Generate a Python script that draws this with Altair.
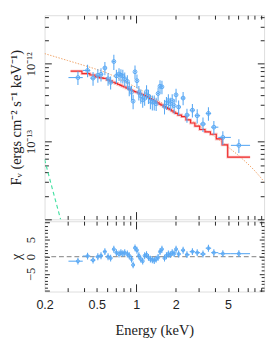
import altair as alt
import pandas as pd
import numpy as np

# ---------------- data (flux in units of 1e-13 erg cm^-2 s^-1 keV^-1) ----------------
energy = [0.359, 0.425, 0.468, 0.509, 0.538, 0.576, 0.609, 0.637, 0.674, 0.705,
          0.738, 0.763, 0.789, 0.816, 0.854, 0.883, 0.919, 0.945, 0.977, 1.011,
          1.045, 1.081, 1.118, 1.157, 1.196, 1.237, 1.280, 1.324, 1.369, 1.416,
          1.465, 1.515, 1.567, 1.639, 1.696, 1.754, 1.814, 1.876, 1.941, 2.007,
          2.100, 2.272, 2.430, 2.674, 2.909, 3.219, 3.542, 3.896, 4.561, 6.04]
flux = [6.64, 8.20, 6.53, 7.11, 7.32, 8.82, 6.40, 5.76, 10.68, 6.97,
        7.38, 7.11, 6.97, 6.40, 5.93, 4.82, 4.30, 3.30, 7.88, 6.05,
        4.26, 3.87, 3.42, 3.59, 4.38, 3.84, 3.30, 3.21, 3.21, 3.06,
        4.14, 5.14, 5.05, 2.83, 3.14, 3.36, 3.06, 3.36, 2.90, 3.98,
        2.78, 3.62, 2.19, 2.53, 2.15, 1.68, 2.30, 1.53, 1.13, 0.893]
flux_err = [1.3, 1.5, 1.3, 1.4, 1.4, 1.7, 1.2, 1.1, 2.4, 1.4,
            1.4, 1.4, 1.4, 1.3, 1.2, 1.0, 0.9, 0.7, 1.6, 1.2,
            0.9, 0.8, 0.7, 0.7, 0.9, 0.8, 0.7, 0.7, 0.7, 0.6,
            0.8, 1.0, 1.0, 0.6, 0.6, 0.7, 0.6, 0.7, 0.6, 0.8,
            0.6, 0.7, 0.45, 0.5, 0.45, 0.35, 0.45, 0.3, 0.23, 0.18]
chi = [-1.3, 0.2, -1.0, 0.0, 0.3, 1.5, 0.0, -0.4, 2.2, 1.2,
       0.8, 1.2, 0.9, 1.2, 0.8, 0.3, -0.7, -2.4, 2.6, 1.9,
       0.3, -0.7, -1.3, 0.3, 0.6, -0.2, -0.7, -0.9, -1.1, -0.7,
       -0.2, 1.5, 2.2, -0.4, 0.3, 0.8, 0.6, 1.2, 0.9, 2.2,
       0.8, 1.9, 0.6, 1.5, 1.2, 0.8, 2.5, 1.2, 0.9, 0.9]
first_edge = 0.304
last_edge = 7.35

model_energy = [0.3155, 0.3532, 0.4202, 0.4666, 0.5050, 0.5402,
                0.576, 0.609, 0.637, 0.674, 0.705, 0.738, 0.763, 0.789, 0.816, 0.854,
                0.883, 0.919, 0.945, 0.977, 1.011, 1.045, 1.081, 1.118, 1.157, 1.196,
                1.237, 1.280, 1.324, 1.369, 1.416, 1.465, 1.515, 1.567, 1.639, 1.696,
                1.754, 1.814, 1.876, 1.941, 2.007,
                2.137, 2.289, 2.491, 2.688, 2.900, 3.182, 3.491, 3.856, 4.288, 4.729,
                5.214, 7.357]
model_flux = [8.03, 8.03, 7.48, 7.17, 6.77, 6.59,
              6.49, 6.20, 6.01, 5.78, 5.58, 5.41, 5.28, 5.14, 5.03, 4.87,
              4.72, 4.58, 4.47, 4.38, 4.30, 4.21, 4.11, 4.02, 3.93, 3.80,
              3.69, 3.56, 3.45, 3.34, 3.24, 3.14, 3.03, 2.94, 2.81, 2.73,
              2.65, 2.58, 2.48, 2.39, 2.30,
              2.19, 2.09, 1.90, 1.73, 1.58, 1.43, 1.33, 1.24, 1.08, 0.908,
              0.631, 0.631]

dotted_energy = [0.2, 0.3, 0.4, 0.5, 0.6, 0.8, 1.0, 1.5, 2.0, 3.0, 4.0, 5.0, 6.5, 8.0, 9.4]
dotted_flux = [13.5, 11.0, 9.5, 8.45, 7.59, 5.96, 4.96, 3.28, 2.40, 1.61, 1.14, 0.851, 0.588, 0.419, 0.305]

bb_energy = [0.2, 0.23, 0.26, 0.28]
bb_flux = [0.59, 0.241, 0.112, 0.0708]

x_labels = [0.2, 0.5, 1, 2, 5]
x_major = [1]
x_minor = [0.3, 0.4, 0.5, 0.6, 0.7, 0.8, 0.9, 2, 3, 4, 5, 6, 7, 8, 9]
y_labels = [1e-13, 1e-12]
y_major = [1e-14, 1e-13, 1e-12]
y_minor = [2e-14, 3e-14, 4e-14, 5e-14, 6e-14, 7e-14, 8e-14, 9e-14,
           2e-13, 3e-13, 4e-13, 5e-13, 6e-13, 7e-13, 8e-13, 9e-13,
           2e-12, 3e-12, 4e-12]
r_labels = [-5, 0, 5]
r_major = [-10, -5, 0, 5, 10]
r_minor = [-9, -8, -7, -6, -4, -3, -2, -1, 1, 2, 3, 4, 6, 7, 8, 9]

# ---------------- tables ----------------
E = np.array(energy)
mids = np.sqrt(E[:-1] * E[1:])
F = np.array(flux) * 1e-13
S = np.array(flux_err) * 1e-13
C = np.array(chi)
df = pd.DataFrame({
    "E": E,
    "elo": np.concatenate([[first_edge], mids]),
    "ehi": np.concatenate([mids, [last_edge]]),
    "F": F, "Flo": F - S, "Fhi": F + S,
    "chi": C, "clo": C - 1, "chi_hi": C + 1,
})
model_df = pd.DataFrame({"E": model_energy, "F": np.array(model_flux) * 1e-13})
dotted_df = pd.DataFrame({"E": dotted_energy, "F": np.array(dotted_flux) * 1e-13})
bb_df = pd.DataFrame({"E": bb_energy, "F": np.array(bb_flux) * 1e-13})
zero_df = pd.DataFrame({"z": [0]})

BLUE = "#58a8f4"
RED = "#f02a2a"
ORANGE = "#efa266"
GREEN = "#45e0a2"
SERIF = "Liberation Serif"
SANS = "Liberation Sans"
TXT = "#222222"

xs = alt.Scale(type="log", domain=[0.2, 9.4], nice=False)
ys = alt.Scale(type="log", domain=[1e-14, 4.2e-12], nice=False)
rs = alt.Scale(domain=[-10.2, 10.4], nice=False, zero=False)


def tick_axis(orient, values, size):
    return alt.Axis(orient=orient, values=values, tickSize=size, offset=-size,
                    ticks=True, labels=False, domain=False, grid=False, title=None,
                    tickColor="#222222", tickWidth=1)


top_label_axis = alt.Axis(
    orient="left", values=y_labels, ticks=False, tickSize=0, domain=False, grid=False,
    labelExpr="datum.value < 5e-13 ? '10\u207b\u00b9\u00b3' : '10\u207b\u00b9\u00b2'",
    labelAngle=-90, labelAlign="center", labelBaseline="bottom", labelPadding=7,
    labelFont=SERIF, labelFontSize=13, labelColor=TXT,
    title="F\u1d65 (ergs cm\u207b\u00b2 s\u207b\u00b9 keV\u207b\u00b9)",
    titleFont=SERIF, titleFontSize=15, titleFontWeight=400, titleColor=TXT,
    titlePadding=2)

dotted = alt.Chart(dotted_df).mark_line(
    color=ORANGE, strokeDash=[1.5, 1.5], strokeWidth=1, clip=True, interpolate="monotone"
).encode(
    x=alt.X("E:Q", scale=xs, axis=tick_axis("bottom", x_major, 8)),
    y=alt.Y("F:Q", scale=ys, axis=top_label_axis),
)
bb = alt.Chart(bb_df).mark_line(
    color=GREEN, strokeDash=[4, 3], strokeWidth=1.2, clip=True
).encode(
    x=alt.X("E:Q", scale=xs, axis=tick_axis("bottom", x_minor, 4)),
    y=alt.Y("F:Q", scale=ys, axis=tick_axis("left", y_major, 7)),
)
halo = alt.Chart(model_df).mark_line(
    color="#f7a8a8", strokeWidth=3, opacity=0.6, interpolate="step", clip=True
).encode(
    x=alt.X("E:Q", scale=xs, axis=tick_axis("top", x_major, 8)),
    y=alt.Y("F:Q", scale=ys, axis=tick_axis("left", y_minor, 4)),
)
model = alt.Chart(model_df).mark_line(
    color=RED, strokeWidth=1.2, interpolate="step", clip=True
).encode(
    x=alt.X("E:Q", scale=xs, axis=tick_axis("top", x_minor, 4)),
    y=alt.Y("F:Q", scale=ys, axis=tick_axis("right", y_major, 7)),
)
errv = alt.Chart(df).mark_rule(color=BLUE, strokeWidth=1.1).encode(
    x=alt.X("E:Q", scale=xs, axis=None),
    y=alt.Y("Flo:Q", scale=ys, axis=tick_axis("right", y_minor, 4)),
    y2="Fhi:Q",
)
errh = alt.Chart(df).mark_rule(color=BLUE, strokeWidth=1.1).encode(
    x=alt.X("elo:Q", scale=xs, axis=None),
    x2="ehi:Q",
    y=alt.Y("F:Q", scale=ys, axis=None),
)
pts = alt.Chart(df).mark_point(
    shape="circle", filled=False, size=16, strokeWidth=1, color=BLUE, opacity=1
).encode(
    x=alt.X("E:Q", scale=xs, axis=None),
    y=alt.Y("F:Q", scale=ys, axis=None),
)

top = alt.layer(dotted, bb, halo, model, errv, errh, pts).resolve_axis(
    x="independent", y="independent"
).properties(width=228, height=212)

# ---------------- residual panel ----------------
bottom_x_axis = alt.Axis(
    orient="bottom", values=x_labels, ticks=False, tickSize=0, domain=False, grid=False,
    labelExpr="'' + datum.value", labelFlush=False, labelPadding=8,
    labelFont=SANS, labelFontSize=13, labelColor=TXT,
    title="Energy (keV)", titleFont=SERIF, titleFontSize=15, titleFontWeight=400,
    titleColor=TXT, titlePadding=12)
bottom_y_axis = alt.Axis(
    orient="left", values=r_labels, ticks=False, tickSize=0, domain=False, grid=False,
    labelAngle=-90, labelAlign="center", labelBaseline="bottom", labelPadding=7,
    labelFont=SERIF, labelFontSize=13, labelColor=TXT,
    title="\u03c7", titleFont=SERIF, titleFontSize=15, titleFontWeight=400,
    titleColor=TXT, titlePadding=2)

zero = alt.Chart(zero_df).mark_rule(color="#9a9a9a", strokeDash=[5, 3], strokeWidth=1.3).encode(
    y=alt.Y("z:Q", scale=rs, axis=None)
)
rv = alt.Chart(df).mark_rule(color=BLUE, strokeWidth=1.1).encode(
    x=alt.X("E:Q", scale=xs, axis=bottom_x_axis),
    y=alt.Y("clo:Q", scale=rs, axis=bottom_y_axis),
    y2="chi_hi:Q",
)
rh = alt.Chart(df).mark_rule(color=BLUE, strokeWidth=1.1).encode(
    x=alt.X("elo:Q", scale=xs, axis=tick_axis("bottom", x_major, 8)),
    x2="ehi:Q",
    y=alt.Y("chi:Q", scale=rs, axis=tick_axis("left", r_major, 5)),
)
rp = alt.Chart(df).mark_point(
    shape="circle", filled=False, size=10, strokeWidth=1, color=BLUE, opacity=1
).encode(
    x=alt.X("E:Q", scale=xs, axis=tick_axis("bottom", x_minor, 4)),
    y=alt.Y("chi:Q", scale=rs, axis=tick_axis("left", r_minor, 3)),
)
g1 = alt.Chart(df).mark_point(opacity=0).encode(
    x=alt.X("E:Q", scale=xs, axis=tick_axis("top", x_major, 8)),
    y=alt.Y("chi:Q", scale=rs, axis=tick_axis("right", r_major, 5)),
)
g2 = alt.Chart(df).mark_point(opacity=0).encode(
    x=alt.X("E:Q", scale=xs, axis=tick_axis("top", x_minor, 4)),
    y=alt.Y("chi:Q", scale=rs, axis=tick_axis("right", r_minor, 3)),
)

bottom = alt.layer(zero, rv, rh, rp, g1, g2).resolve_axis(
    x="independent", y="independent"
).properties(width=228, height=73)

chart = alt.vconcat(top, bottom, spacing=0).resolve_scale(
    x="independent", y="independent"
).properties(
    padding=0
).configure_view(
    stroke="#222222", strokeWidth=1
).configure_axis(
    titleFontWeight="normal"
).configure(
    background="white"
)

chart.save("out.html", embed_options={"renderer": "svg", "actions": False})
